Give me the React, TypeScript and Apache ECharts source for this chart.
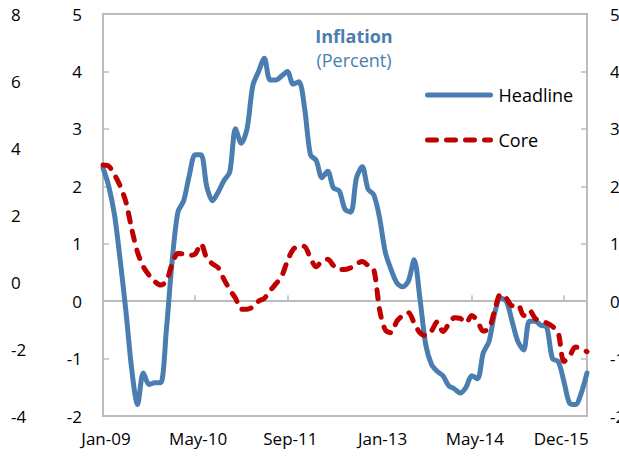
import React, { useEffect, useRef } from "react";
import * as echarts from "echarts";

const months: string[] = [];
const monthNames = ["Jan", "Feb", "Mar", "Apr", "May", "Jun", "Jul", "Aug", "Sep", "Oct", "Nov", "Dec"];
for (let i = 0; i < 85; i++) {
  const y = 9 + Math.floor(i / 12);
  months.push(monthNames[i % 12] + "-" + String(y).padStart(2, "0"));
}

const headline = [
  2.32, 2.0, 1.5, 0.7, -0.2, -1.2, -1.8, -1.25, -1.45, -1.42,
  -1.42, -0.5, 0.7, 1.55, 1.75, 2.2, 2.55, 2.55, 2.0, 1.75,
  1.9, 2.1, 2.25, 3.0, 2.75, 3.0, 3.75, 4.0, 4.23, 3.85,
  3.85, 3.92, 4.0, 3.78, 3.82, 3.35, 2.55, 2.45, 2.15, 2.26,
  1.97, 1.92, 1.6, 1.55, 2.15, 2.34, 1.95, 1.85, 1.45, 0.85,
  0.55, 0.32, 0.25, 0.35, 0.72, 0.05, -0.75, -1.1, -1.22, -1.3,
  -1.47, -1.53, -1.6, -1.5, -1.3, -1.35, -0.9, -0.7, -0.2, 0.05,
  0.0, -0.35, -0.7, -0.85, -0.35, -0.35, -0.42, -0.45, -1.0, -1.05,
  -1.4, -1.78, -1.8, -1.6, -1.25,
];

const core = [
  2.37, 2.35, 2.2, 2.0, 1.72, 1.25, 0.85, 0.6, 0.45, 0.34,
  0.28, 0.35, 0.65, 0.83, 0.82, 0.8, 0.82, 1.0, 0.75, 0.65,
  0.58, 0.38, 0.2, 0.05, -0.14, -0.14, -0.1, 0.0, 0.05, 0.18,
  0.3, 0.43, 0.7, 0.9, 0.96, 0.95, 0.75, 0.6, 0.7, 0.73,
  0.62, 0.55, 0.55, 0.58, 0.65, 0.69, 0.62, 0.55, -0.15, -0.5,
  -0.55, -0.35, -0.25, -0.2, -0.38, -0.55, -0.6, -0.52, -0.36, -0.53,
  -0.4, -0.29, -0.3, -0.38, -0.25, -0.35, -0.52, -0.48, -0.15, 0.12,
  0.05, -0.08, -0.06, -0.25, -0.16, -0.3, -0.35, -0.38, -0.44, -0.55,
  -1.05, -0.95, -0.8, -0.83, -0.88,
];

const xTickLabels = ["Jan-09", "May-10", "Sep-11", "Jan-13", "May-14", "Dec-15"];
const xTickLabelIdx = [0, 16, 32, 48, 64, 79];

const FONT = "'Open Sans', 'Noto Sans', sans-serif";
const BLUE = "#4a7eb0";
const RED = "#c00000";
const GRAY = "#bcbcbc";

export default function App() {
  const ref = useRef<HTMLDivElement>(null);
  useEffect(() => {
    if (!ref.current) return;
    const chart = echarts.init(ref.current, null, { renderer: "svg" });
    chart.setOption({
      animation: false,
      backgroundColor: "#ffffff",
      textStyle: { fontFamily: FONT },
      title: {
        text: "Inflation",
        subtext: "(Percent)",
        left: 349,
        textAlign: "center",
        top: 22,
        itemGap: 6,
        textStyle: { fontFamily: FONT, fontSize: 18, fontWeight: "bold", color: BLUE },
        subtextStyle: { fontFamily: FONT, fontSize: 18, color: BLUE },
      },
      legend: {
        orient: "vertical",
        left: 425,
        top: 86,
        padding: 0,
        itemWidth: 63,
        itemHeight: 14,
        itemGap: 27,
        itemStyle: { opacity: 0 },
        lineStyle: { width: 5 },
        textStyle: { fontFamily: FONT, fontSize: 18, color: "#000", padding: [0, 0, 0, 3] },
        data: [{ name: "Headline" }, { name: "Core" }],
      },
      grid: {
        left: 103,
        top: 14,
        right: 32,
        bottom: 42,
        show: true,
        borderColor: GRAY,
        borderWidth: 2,
        containLabel: false,
        outerBoundsMode: "none",
      },
      xAxis: [
        {
          type: "category",
          data: months,
          boundaryGap: false,
          axisLine: { onZero: true, lineStyle: { color: GRAY, width: 2 } },
          axisTick: { inside: true, length: 6, interval: 15, lineStyle: { color: GRAY, width: 1.5 } },
          axisLabel: { show: false },
          splitLine: { show: false },
        },
        {
          type: "category",
          data: months,
          boundaryGap: false,
          position: "bottom",
          axisLine: { show: false, onZero: false },
          axisTick: { show: false },
          axisLabel: {
            interval: (idx: number) => xTickLabelIdx.includes(idx),
            formatter: (_v: string, idx: number) => {
              const k = xTickLabelIdx.indexOf(idx);
              return k >= 0 ? xTickLabels[k] : "";
            },
            margin: 14,
            fontSize: 17,
            color: "#000",
            fontFamily: FONT,
            padding: [0, 0, 0, 6],
          },
          splitLine: { show: false },
        },
      ],
      yAxis: [
        {
          type: "value",
          min: -2,
          max: 5,
          interval: 1,
          position: "left",
          axisLine: { show: false },
          axisTick: { show: true, inside: true, length: 6, lineStyle: { color: GRAY, width: 1.5 } },
          axisLabel: { margin: 21, fontSize: 17, color: "#000", fontFamily: FONT },
          splitLine: { show: false },
        },
        {
          type: "value",
          min: -2,
          max: 5,
          interval: 1,
          position: "right",
          axisLine: { show: false },
          axisTick: { show: true, inside: true, length: 6, lineStyle: { color: GRAY, width: 1.5 } },
          axisLabel: { margin: 23, fontSize: 17, color: "#000", fontFamily: FONT },
          splitLine: { show: false },
        },
        {
          type: "value",
          min: -4,
          max: 8,
          interval: 2,
          position: "left",
          offset: 70,
          axisLine: { show: false },
          axisTick: { show: false },
          axisLabel: { margin: 22, align: "left", fontSize: 17, color: "#000", fontFamily: FONT },
          splitLine: { show: false },
        },
      ],
      series: [
        {
          name: "Headline",
          type: "line",
          data: headline,
          xAxisIndex: 0,
          yAxisIndex: 0,
          symbol: "none",
          smooth: 0.3,
          lineStyle: { color: BLUE, width: 5, cap: "round", join: "round" },
          itemStyle: { color: BLUE },
          z: 3,
        },
        {
          name: "Core",
          type: "line",
          data: core,
          xAxisIndex: 0,
          yAxisIndex: 0,
          symbol: "none",
          smooth: 0.3,
          lineStyle: { color: RED, width: 5, type: [9, 10], cap: "round", join: "round" },
          itemStyle: { color: RED },
          z: 4,
        },
      ],
    });
    return () => chart.dispose();
  }, []);
  return (
    <div
      ref={ref}
      style={{ position: "absolute", left: 0, top: 0, width: 619, height: 458, overflow: "hidden" }}
    />
  );
}
